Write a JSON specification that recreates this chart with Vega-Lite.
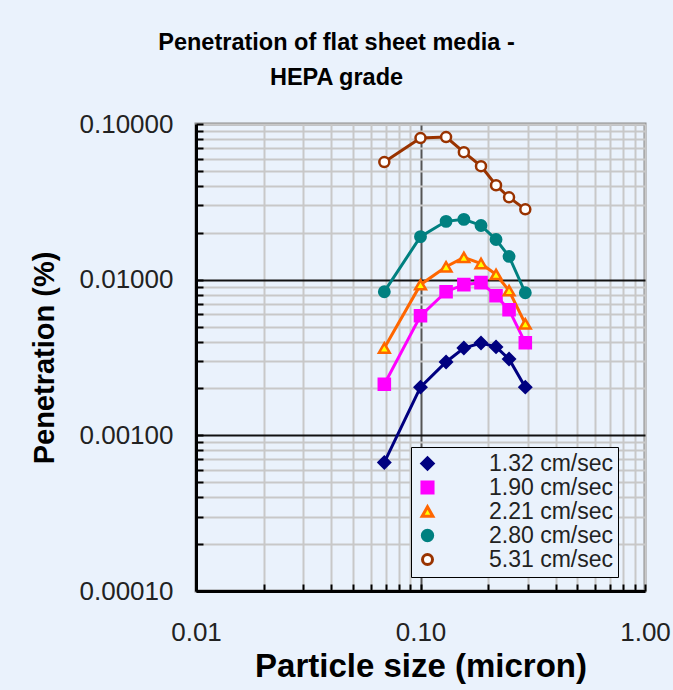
{
  "$schema": "https://vega.github.io/schema/vega-lite/v6.json",
  "autosize": {"type": "none"},
  "padding": {"left": 196, "top": 124, "right": 28, "bottom": 99},
  "width": 449,
  "height": 467,
  "background": "#EAF2FC",
  "title": {
    "text": ["Penetration of flat sheet media -", "HEPA grade"],
    "fontSize": 23.5,
    "font": "Liberation Sans",
    "fontWeight": "bold",
    "color": "black",
    "anchor": "middle",
    "dx": -84,
    "offset": 22,
    "lineHeight": 35
  },
  "config": {
    "view": {"stroke": "#8C8C8C", "strokeWidth": 3},
    "axis": {
      "labelFont": "Liberation Sans",
      "titleFont": "Liberation Sans",
      "labelColor": "#222",
      "titleColor": "black",
      "domainColor": "black",
      "domainWidth": 3,
      "tickColor": "black",
      "tickWidth": 2,
      "labelOverlap": false,
      "labelFlush": false,
      "labelBound": false
    },
    "legend": {
      "orient": "none",
      "legendX": 215,
      "legendY": 323,
      "labelFontSize": 23,
      "labelFont": "Liberation Sans",
      "labelColor": "#222",
      "symbolSize": 100,
      "labelOffset": 50,
      "rowPadding": -3,
      "padding": 5,
      "strokeColor": "black",
      "fillColor": "#EAF2FC",
      "symbolStrokeWidth": 3
    }
  },
  "data": {
    "values": [
      {"size": 0.069, "pen": 0.00067, "series": "1.32 cm/sec"},
      {"size": 0.10, "pen": 0.00204, "series": "1.32 cm/sec"},
      {"size": 0.13, "pen": 0.00296, "series": "1.32 cm/sec"},
      {"size": 0.156, "pen": 0.00364, "series": "1.32 cm/sec"},
      {"size": 0.186, "pen": 0.00392, "series": "1.32 cm/sec"},
      {"size": 0.217, "pen": 0.0037, "series": "1.32 cm/sec"},
      {"size": 0.248, "pen": 0.00309, "series": "1.32 cm/sec"},
      {"size": 0.293, "pen": 0.00204, "series": "1.32 cm/sec"},
      {"size": 0.069, "pen": 0.00213, "series": "1.90 cm/sec"},
      {"size": 0.10, "pen": 0.00586, "series": "1.90 cm/sec"},
      {"size": 0.13, "pen": 0.00837, "series": "1.90 cm/sec"},
      {"size": 0.156, "pen": 0.00929, "series": "1.90 cm/sec"},
      {"size": 0.186, "pen": 0.00957, "series": "1.90 cm/sec"},
      {"size": 0.217, "pen": 0.00789, "series": "1.90 cm/sec"},
      {"size": 0.248, "pen": 0.0064, "series": "1.90 cm/sec"},
      {"size": 0.293, "pen": 0.00393, "series": "1.90 cm/sec"},
      {"size": 0.069, "pen": 0.00364, "series": "2.21 cm/sec"},
      {"size": 0.10, "pen": 0.00929, "series": "2.21 cm/sec"},
      {"size": 0.13, "pen": 0.0121, "series": "2.21 cm/sec"},
      {"size": 0.156, "pen": 0.0139, "series": "2.21 cm/sec"},
      {"size": 0.186, "pen": 0.0127, "series": "2.21 cm/sec"},
      {"size": 0.217, "pen": 0.0108, "series": "2.21 cm/sec"},
      {"size": 0.248, "pen": 0.0085, "series": "2.21 cm/sec"},
      {"size": 0.293, "pen": 0.0052, "series": "2.21 cm/sec"},
      {"size": 0.069, "pen": 0.00837, "series": "2.80 cm/sec"},
      {"size": 0.10, "pen": 0.0189, "series": "2.80 cm/sec"},
      {"size": 0.13, "pen": 0.0237, "series": "2.80 cm/sec"},
      {"size": 0.156, "pen": 0.0244, "series": "2.80 cm/sec"},
      {"size": 0.186, "pen": 0.0223, "series": "2.80 cm/sec"},
      {"size": 0.217, "pen": 0.0181, "series": "2.80 cm/sec"},
      {"size": 0.248, "pen": 0.0141, "series": "2.80 cm/sec"},
      {"size": 0.293, "pen": 0.00824, "series": "2.80 cm/sec"},
      {"size": 0.069, "pen": 0.0569, "series": "5.31 cm/sec"},
      {"size": 0.10, "pen": 0.0812, "series": "5.31 cm/sec"},
      {"size": 0.13, "pen": 0.0824, "series": "5.31 cm/sec"},
      {"size": 0.156, "pen": 0.0659, "series": "5.31 cm/sec"},
      {"size": 0.186, "pen": 0.0536, "series": "5.31 cm/sec"},
      {"size": 0.217, "pen": 0.0404, "series": "5.31 cm/sec"},
      {"size": 0.248, "pen": 0.0338, "series": "5.31 cm/sec"},
      {"size": 0.293, "pen": 0.0283, "series": "5.31 cm/sec"}
    ]
  },
  "encoding": {
    "x": {
      "field": "size",
      "type": "quantitative",
      "scale": {"type": "log", "domain": [0.01, 1], "nice": false},
      "axis": {
        "title": "Particle size (micron)",
        "titleFontSize": 33,
        "titleFontWeight": "bold",
        "titlePadding": 5,
        "labelFontSize": 26,
        "labelPadding": 35,
        "tickSize": -7,
        "values": [0.01, 0.02, 0.03, 0.04, 0.05, 0.06, 0.07, 0.08, 0.09, 0.1, 0.2, 0.3, 0.4, 0.5, 0.6, 0.7, 0.8, 0.9, 1],
        "labelExpr": "abs(log(datum.value)/LN10 - round(log(datum.value)/LN10)) < 0.01 ? format(datum.value, '.2f') : ''",
        "grid": true,
        "gridColor": {"condition": {"test": "abs(datum.value - 0.1) < 0.001", "value": "#555555"}, "value": "#C8C8C8"},
        "gridWidth": 2
      }
    },
    "y": {
      "field": "pen",
      "type": "quantitative",
      "scale": {"type": "log", "domain": [0.0001, 0.1], "nice": false},
      "axis": {
        "title": "Penetration (%)",
        "titleFontSize": 29,
        "titleFontWeight": "bold",
        "titlePadding": 20,
        "labelFontSize": 26,
        "labelPadding": 30,
        "tickSize": -7,
        "values": [0.0001, 0.0002, 0.0003, 0.0004, 0.0005, 0.0006, 0.0007, 0.0008, 0.0009, 0.001, 0.002, 0.003, 0.004, 0.005, 0.006, 0.007, 0.008, 0.009, 0.01, 0.02, 0.03, 0.04, 0.05, 0.06, 0.07, 0.08, 0.09, 0.1],
        "labelExpr": "abs(log(datum.value)/LN10 - round(log(datum.value)/LN10)) < 0.01 ? format(datum.value, '.5f') : ''",
        "grid": true,
        "gridColor": {"condition": {"test": "abs(log(datum.value)/LN10 - round(log(datum.value)/LN10)) < 0.01 && datum.value > 0.00011 && datum.value < 0.09", "value": "#111111"}, "value": "#C8C8C8"},
        "gridWidth": 2
      }
    }
  },
  "layer": [
    {
      "mark": {"type": "line"},
      "encoding": {
        "stroke": {
          "field": "series",
          "type": "nominal",
          "scale": {"domain": ["1.32 cm/sec", "1.90 cm/sec", "2.21 cm/sec", "2.80 cm/sec", "5.31 cm/sec"], "range": ["#000080", "#FF00FF", "#FF6600", "#008080", "#993300"]},
          "legend": {"title": null}
        },
        "strokeWidth": {
          "field": "series",
          "type": "ordinal",
          "scale": {"domain": ["1.32 cm/sec", "1.90 cm/sec", "2.21 cm/sec", "2.80 cm/sec", "5.31 cm/sec"], "range": [3, 3, 3, 3, 1.5]},
          "legend": {"title": null}
        }
      }
    },
    {
      "mark": {"type": "point", "filled": true, "strokeWidth": 2.5, "opacity": 1},
      "encoding": {
        "shape": {
          "field": "series",
          "type": "nominal",
          "scale": {"domain": ["1.32 cm/sec", "1.90 cm/sec", "2.21 cm/sec", "2.80 cm/sec", "5.31 cm/sec"], "range": ["diamond", "square", "triangle-up", "circle", "circle"]},
          "legend": {"title": null}
        },
        "stroke": {
          "field": "series",
          "type": "nominal",
          "legend": {"title": null}
        },
        "fill": {
          "field": "series",
          "type": "nominal",
          "scale": {"domain": ["1.32 cm/sec", "1.90 cm/sec", "2.21 cm/sec", "2.80 cm/sec", "5.31 cm/sec"], "range": ["#000080", "#FF00FF", "#FFFF00", "#008080", "#FFFFFF"]},
          "legend": {"title": null}
        },
        "size": {
          "field": "series",
          "type": "ordinal",
          "scale": {"domain": ["1.32 cm/sec", "1.90 cm/sec", "2.21 cm/sec", "2.80 cm/sec", "5.31 cm/sec"], "range": [130, 100, 70, 100, 45]},
          "legend": {"title": null}
        }
      }
    }
  ]
}
